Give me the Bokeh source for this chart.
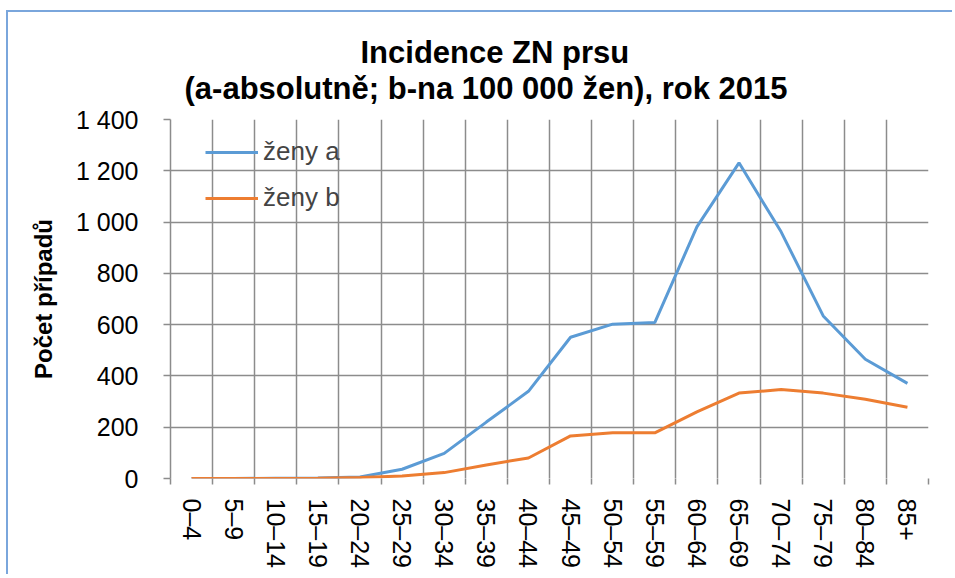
from bokeh.plotting import figure
from bokeh.models import (FactorRange, Range1d, FixedTicker, LinearAxis, CategoricalAxis,
                          Title, Legend, LegendItem, CustomLabelingPolicy)
from bokeh.embed import file_html
from bokeh.resources import INLINE

categories = ["0–4", "5–9", "10–14", "15–19", "20–24", "25–29", "30–34", "35–39", "40–44",
              "45–49", "50–54", "55–59", "60–64", "65–69", "70–74", "75–79", "80–84", "85+"]
zeny_a = [0, 0, 1, 2, 6, 36, 98, 220, 340, 551, 602, 608, 981, 1231, 962, 634, 465, 371]
zeny_b = [0, 0, 0, 1, 4, 10, 23, 53, 80, 166, 178, 178, 260, 333, 347, 333, 309, 278]
y_ticks = [0, 200, 400, 600, 800, 1000, 1200, 1400]
y_tick_labels = ["0", "200", "400", "600", "800", "1 000", "1 200", "1 400"]
title_line1 = "Incidence ZN prsu"
title_line2 = "(a-absolutně; b-na 100 000 žen), rok 2015"
y_label = "Počet případů"
series_names = ["ženy a", "ženy b"]

FONT = "Liberation Sans"
GRID = "#8c8c8c"

p = figure(width=946, height=564, x_range=FactorRange(factors=categories, range_padding=0),
           y_range=Range1d(0, 1400), output_backend="svg", toolbar_location=None,
           x_axis_location=None, y_axis_location="left",
           min_border_left=162, min_border_right=26, min_border_top=107, min_border_bottom=98)
p.outline_line_color = None
p.styles = {"margin-left": "6px", "margin-top": "10px",
            "border-left": "2px solid #7aa6dc", "border-top": "2px solid #7aa6dc"}

# y axis
ya = p.yaxis[0]
ya.ticker = FixedTicker(ticks=y_ticks)
ya.major_label_overrides = {t: l for t, l in zip(y_ticks, y_tick_labels)}
ya.major_label_text_font = FONT
ya.major_label_text_font_size = "25px"
ya.major_label_text_color = "#000000"
ya.major_label_standoff = 25
ya.major_tick_out = 7
ya.major_tick_in = 0
ya.minor_tick_line_color = None
ya.major_tick_line_color = GRID
ya.major_tick_line_width = 1.5
ya.axis_line_color = GRID
ya.axis_line_width = 1.5
ya.axis_label = y_label
ya.axis_label_text_font = FONT
ya.axis_label_text_font_size = "24px"
ya.axis_label_text_font_style = "bold"
ya.axis_label_text_color = "#000000"
ya.axis_label_standoff = 16

# x axis: boundary tick marks (no labels) + category labels
n = len(categories)
tick_axis = LinearAxis(ticker=FixedTicker(ticks=list(range(n + 1))),
                       major_label_policy=CustomLabelingPolicy(code="return new Set()"),
                       major_label_text_font_size="0px", major_label_standoff=0,
                       axis_line_color=None, major_tick_out=6, major_tick_in=0,
                       major_tick_line_color=GRID, major_tick_line_width=1.5,
                       minor_tick_line_color=None)
p.add_layout(tick_axis, "below")
cat_axis = CategoricalAxis(major_label_orientation="vertical", major_tick_line_color=None,
                           axis_line_color=None, major_label_standoff=8,
                           major_label_text_font=FONT, major_label_text_font_size="25px",
                           major_label_text_color="#000000")
p.add_layout(cat_axis, "below")

# invisible spacer between plot area and the title lines
spacer = LinearAxis(ticker=FixedTicker(ticks=[]),
                    major_label_policy=CustomLabelingPolicy(code="return new Set()"),
                    major_label_text_font_size="0px", major_label_standoff=18,
                    axis_line_color=None, major_tick_out=0, major_tick_in=0,
                    minor_tick_out=0, minor_tick_in=0,
                    major_tick_line_color=None, minor_tick_line_color=None)
p.add_layout(spacer, "above")

# grids
p.xgrid.ticker = FixedTicker(ticks=list(range(n + 1)))
p.xgrid.grid_line_color = GRID
p.xgrid.grid_line_width = 1.5
p.ygrid.ticker = FixedTicker(ticks=y_ticks)
p.ygrid.grid_line_color = GRID
p.ygrid.grid_line_width = 1.5

la = p.line(categories, zeny_a, line_color="#5b9bd5", line_width=3)
lb = p.line(categories, zeny_b, line_color="#ed7d31", line_width=3)

legend = Legend(items=[LegendItem(label=series_names[0], renderers=[la]),
                       LegendItem(label=series_names[1], renderers=[lb])],
                location=(35, 265), orientation="vertical",
                glyph_width=53, glyph_height=30, label_height=30, spacing=15,
                label_standoff=5, padding=0, margin=0,
                label_text_font=FONT, label_text_font_size="26px",
                background_fill_alpha=0, border_line_color=None)
p.add_layout(legend, "center")

t2 = Title(text=title_line2, align="left", offset=14, text_font=FONT, text_font_size="31px",
           text_font_style="bold", text_color="#000000", standoff=28,
           vertical_align="bottom", text_line_height=1.0)
t1 = Title(text=title_line1, align="left", offset=190, text_font=FONT, text_font_size="31px",
           text_font_style="bold", text_color="#000000", standoff=-32,
           vertical_align="middle", text_line_height=1.0)
p.add_layout(t2, "above")
p.add_layout(t1, "above")

open("out.html", "w").write(file_html(p, INLINE))
